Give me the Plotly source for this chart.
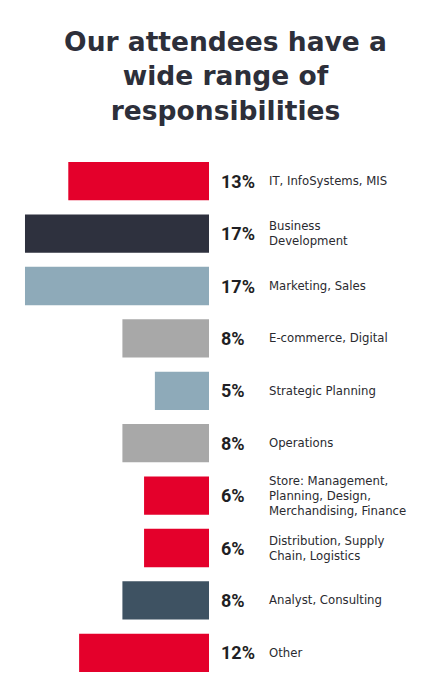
import plotly.graph_objects as go

# responsibilities, top to bottom
categories = [
    "IT, InfoSystems, MIS",
    "Business<br>Development",
    "Marketing, Sales",
    "E-commerce, Digital",
    "Strategic Planning",
    "Operations",
    "Store: Management,<br>Planning, Design,<br>Merchandising, Finance",
    "Distribution, Supply<br>Chain, Logistics",
    "Analyst, Consulting",
    "Other",
]
shares = [13, 17, 17, 8, 5, 8, 6, 6, 8, 12]
bar_colors = [
    "#e4002b", "#2e313e", "#8eaab9", "#a8a8a8", "#8eaab9",
    "#a8a8a8", "#e4002b", "#e4002b", "#3e5262", "#e4002b",
]

ids = list(range(len(categories)))

# the page has an 8px body margin, so the figure is drawn a bit smaller
W, H = 435, 690

fig = go.Figure()
fig.add_bar(
    x=shares,
    y=ids,
    orientation="h",
    marker=dict(color=bar_colors, line=dict(width=0)),
    hoverinfo="skip",
)

# percentage + label to the right of each bar
for i, (cat, val) in enumerate(zip(categories, shares)):
    fig.add_annotation(
        x=0, y=i, xref="x", yref="y",
        text=f"<b>{val}%</b>", showarrow=False,
        xanchor="left", xshift=10,
        font=dict(family="Roboto", size=18, color="#1f1f24"),
    )
    fig.add_annotation(
        x=0, y=i, xref="x", yref="y",
        text=cat, showarrow=False,
        xanchor="left", align="left", xshift=58,
        font=dict(family="DejaVu Sans", size=11.7, color="#2a2a30"),
    )

fig.update_layout(
    width=W,
    height=H,
    margin=dict(l=0, r=0, t=147, b=19),
    paper_bgcolor="white",
    plot_bgcolor="white",
    showlegend=False,
    bargap=0.27,
    title=dict(
        text="<b>Our attendees have a<br>wide range of<br>responsibilities</b>",
        x=0.5, xanchor="center",
        y=1 - 43 / H, yanchor="top", yref="container",
        font=dict(family="DejaVu Sans", size=26.5, color="#2d2f3a"),
    ),
)
fig.update_xaxes(
    range=[18.57, 0], domain=[0, 201 / W],
    visible=False, fixedrange=True,
)
fig.update_yaxes(
    range=[len(categories) - 0.5, -0.5],
    visible=False, fixedrange=True,
)

fig.write_html("out.html")
